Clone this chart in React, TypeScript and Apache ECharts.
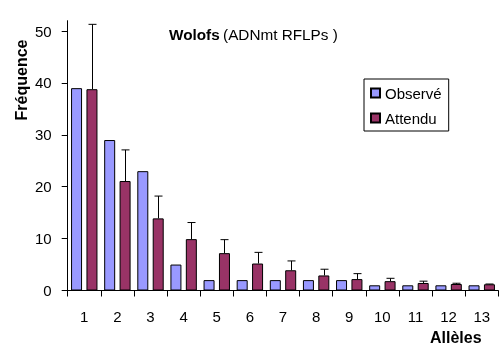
import React, { useEffect, useRef } from "react";
import * as echarts from "echarts";

const categories = ["1", "2", "3", "4", "5", "6", "7", "8", "9", "10", "11", "12", "13"];
const observe = [39, 29, 23, 5, 2, 2, 2, 2, 2, 1, 1, 1, 1];
const attendu = [38.8, 21.1, 13.9, 9.9, 7.2, 5.2, 3.9, 2.9, 2.2, 1.8, 1.45, 1.25, 1.2];
const erreurHaut = [51.3, 27.1, 18.2, 13.1, 9.8, 7.35, 5.7, 4.1, 3.25, 2.35, 1.8, 1.4, 1.25];
const yTicks = [0, 10, 20, 30, 40, 50];

const FONT = "'Liberation Sans', Arial, sans-serif";
const BAR_W = 11;
const BAR_GAP = 0.4;

export default function App() {
  const ref = useRef<HTMLDivElement>(null);
  useEffect(() => {
    if (!ref.current) return;
    const chart = echarts.init(ref.current, null, { renderer: "svg" });
    const offset = (BAR_W + BAR_W * BAR_GAP) / 2;
    chart.setOption({
      animation: false,
      textStyle: { fontFamily: FONT },
      grid: { left: 67.7, right: 5.7, top: 20.7, bottom: 69.5, containLabel: false },
      legend: {
        data: ["Observé", "Attendu"],
        orient: "vertical",
        left: 364,
        top: 79,
        padding: [5.5, 7, 4.5, 6],
        itemWidth: 9,
        itemHeight: 9,
        itemGap: 8,
        icon: "rect",
        borderColor: "#000",
        borderWidth: 1,
        textStyle: { fontFamily: FONT, fontSize: 15, color: "#000", lineHeight: 17 },
      },
      xAxis: {
        type: "category",
        data: categories,
        boundaryGap: true,
        axisLine: { lineStyle: { color: "#000", width: 1 } },
        axisTick: { show: true, length: 6, interval: 0, lineStyle: { color: "#000" } },
        axisLabel: { interval: 0, margin: 18, fontSize: 15, color: "#000", fontFamily: FONT },
        splitLine: { show: false },
      },
      yAxis: {
        type: "value",
        min: 0,
        max: 52,
        interval: 10,
        axisLine: { show: true, lineStyle: { color: "#000", width: 1 } },
        axisTick: { show: true, length: 6, lineStyle: { color: "#000" }, customValues: yTicks },
        axisLabel: { margin: 16, fontSize: 15, color: "#000", fontFamily: FONT, customValues: yTicks },
        splitLine: { show: false },
      },
      series: [
        {
          name: "Observé",
          type: "bar",
          data: observe,
          barWidth: BAR_W,
          barGap: BAR_GAP * 100 + "%",
          itemStyle: { color: "#9999FF", borderColor: "#000", borderWidth: 1 },
        },
        {
          name: "Attendu",
          type: "bar",
          data: attendu,
          barWidth: BAR_W,
          barGap: BAR_GAP * 100 + "%",
          itemStyle: { color: "#993366", borderColor: "#000", borderWidth: 1 },
        },
        {
          name: "err",
          type: "custom",
          z: 5,
          data: categories.map((_, i) => [i, attendu[i], erreurHaut[i]]),
          renderItem: (params: any, api: any) => {
            const base = api.coord([api.value(0), api.value(1)]);
            const top = api.coord([api.value(0), api.value(2)]);
            const cx = Math.round(base[0] + offset) + 0.5;
            return {
              type: "group",
              children: [
                { type: "line", shape: { x1: cx, y1: base[1], x2: cx, y2: top[1] }, style: { stroke: "#000", lineWidth: 1 } },
                { type: "line", shape: { x1: cx - 4, y1: top[1], x2: cx + 4, y2: top[1] }, style: { stroke: "#000", lineWidth: 1 } },
              ],
            };
          },
        },
      ],
      graphic: [
        {
          type: "text",
          x: 169,
          y: 34,
          style: {
            text: "{b|Wolofs} {n|(ADNmt RFLPs )}",
            verticalAlign: "middle",
            rich: {
              b: { fontFamily: FONT, fontSize: 15.3, fontWeight: "bold", fill: "#000" },
              n: { fontFamily: FONT, fontSize: 15.3, fill: "#000" },
            },
          },
        },
        {
          type: "text",
          x: 21,
          y: 80,
          rotation: Math.PI / 2,
          style: {
            text: "Fréquence",
            fontFamily: FONT,
            fontSize: 16,
            fontWeight: "bold",
            fill: "#000",
            align: "center",
            verticalAlign: "middle",
          },
        },
        {
          type: "text",
          x: 430,
          y: 337,
          style: {
            text: "Allèles",
            fontFamily: FONT,
            fontSize: 16,
            fontWeight: "bold",
            fill: "#000",
            verticalAlign: "middle",
          },
        },
      ],
    });
    return () => chart.dispose();
  }, []);
  return <div ref={ref} style={{ position: "fixed", left: 0, top: 0, width: 504, height: 360 }} />;
}
